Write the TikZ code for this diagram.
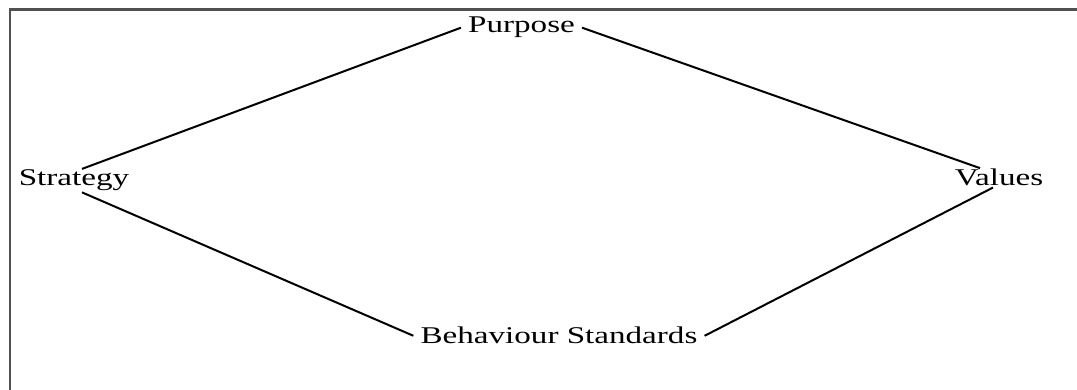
\documentclass[tikz,border=0pt]{standalone}
\usepackage{fontspec}
\usepackage{tikz}
\newfontfamily\conceptFont[FakeStretch=1.38]{Liberation Serif}
\definecolor{frameColor}{RGB}{80,80,80}
\tikzstyle{diagram} = [x = 1pt, y = 1pt]
\tikzstyle{conceptLabel} = [font=\conceptFont\fontsize{24}{28}\selectfont, anchor=base, inner xsep=7pt, inner ysep=1pt]
\tikzstyle{linkLine} = [color=black, line width=2pt]
\tikzstyle{frameLine} = [color=frameColor, line width=2.2pt]

\begin{document}
\begin{tikzpicture}[diagram]
  \useasboundingbox (0,0) rectangle (1077,390);
  % open frame, top and left edges only
  \draw [frameLine] (10,0) -- (10,380.5) -- (1077,380.5);

  \node [conceptLabel] (purpose) at (521.5,357) {Purpose};
  \node [conceptLabel] (strategy) at (74,204) {Strategy};
  \node [conceptLabel] (values) at (999,204) {Values};
  \node [conceptLabel] (behaviour) at (559,46) {Behaviour Standards};

  \draw [linkLine] (purpose.west) -- ([xshift=8pt]strategy.north);
  \draw [linkLine] (purpose.east) -- ([xshift=-19pt]values.north);
  \draw [linkLine] ([xshift=8pt]strategy.south) -- (behaviour.west);
  \draw [linkLine] ([xshift=-6pt]values.south) -- (behaviour.east);
\end{tikzpicture}
\end{document}
